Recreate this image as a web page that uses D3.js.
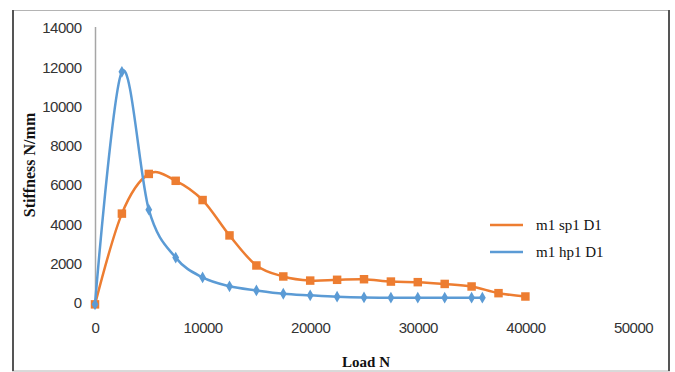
<!DOCTYPE html>
<html>
<head>
<meta charset="utf-8">
<script src="https://cdn.jsdelivr.net/npm/d3@7"></script>
<style>
  html, body { margin: 0; padding: 0; background: #fff; }
  svg { display: block; }
</style>
</head>
<body>
<svg id="chart" width="675" height="372"></svg>
<script>
// Load (N) at each measurement step
const loadSp = [0, 2500, 5000, 7500, 10000, 12500, 15000, 17500, 20000, 22500, 25000, 27500, 30000, 32500, 35000, 37500, 40000];
const stiffSp = [-120, 4500, 6520, 6170, 5190, 3390, 1860, 1300, 1090, 1130, 1160, 1040, 1010, 920, 790, 450, 280];

const loadHp = [0, 2500, 5000, 7500, 10000, 12500, 15000, 17500, 20000, 22500, 25000, 27500, 30000, 32500, 35000, 36000];
const stiffHp = [-120, 11720, 4700, 2260, 1250, 800, 590, 420, 340, 270, 230, 220, 220, 220, 220, 220];

const seriesNames = ["m1 sp1 D1", "m1 hp1 D1"];
const xTicks = [0, 10000, 20000, 30000, 40000, 50000];
const yTicks = [0, 2000, 4000, 6000, 8000, 10000, 12000, 14000];

const svg = d3.select("#chart");
const x = d3.scaleLinear().domain([0, 50000]).range([95, 633]);
const y = d3.scaleLinear().domain([0, 14000]).range([302, 27]);

const ORANGE = "#ED7D31";
const BLUE = "#5B9BD5";
const TICK_FONT = "'Liberation Sans', Arial, sans-serif";
const SERIF = "'Liberation Serif', 'Times New Roman', serif";

// outer frame
svg.append("rect").attr("x", 12.5).attr("y", 10.5).attr("width", 657).attr("height", 360.5)
  .attr("fill", "none").attr("stroke", "#b4b4b4").attr("stroke-width", 1);
svg.append("line").attr("x1", 13).attr("x2", 13).attr("y1", 10).attr("y2", 371)
  .attr("stroke", "#555").attr("stroke-width", 2);
svg.append("line").attr("x1", 669).attr("x2", 669).attr("y1", 10).attr("y2", 371)
  .attr("stroke", "#555").attr("stroke-width", 2);

// vertical axis line
svg.append("line").attr("x1", x(0) + 0.5).attr("x2", x(0) + 0.5)
  .attr("y1", y(14000)).attr("y2", y(-150))
  .attr("stroke", "#a6a6a6").attr("stroke-width", 1.5);

// y tick labels
const yAxis = d3.axisLeft(y).tickValues(yTicks).tickFormat(d3.format("d")).tickSize(0).tickPadding(0);
const gy = svg.append("g").attr("transform", "translate(81.5,1)").call(yAxis);
gy.select(".domain").remove();
gy.selectAll("text").attr("font-family", TICK_FONT)
  .attr("font-size", 15).attr("letter-spacing", "-0.5px").attr("fill", "#333");

// x tick labels (no horizontal axis line)
const xAxis = d3.axisBottom(x).tickValues(xTicks).tickFormat(d3.format("d")).tickSize(0).tickPadding(0);
const gx = svg.append("g").attr("transform", "translate(0,322)").call(xAxis);
gx.select(".domain").remove();
gx.selectAll("text").attr("font-family", TICK_FONT)
  .attr("font-size", 15).attr("letter-spacing", "-0.5px").attr("fill", "#333");

// axis titles
svg.append("text").attr("x", 366).attr("y", 367).attr("text-anchor", "middle")
  .attr("font-family", SERIF)
  .attr("font-weight", "bold").attr("font-size", 15).attr("fill", "#111")
  .text("Load N");
svg.append("text").attr("transform", "translate(35,165) rotate(-90)").attr("text-anchor", "middle")
  .attr("font-family", SERIF)
  .attr("font-weight", "bold").attr("font-size", 16).attr("fill", "#111")
  .text("Stiffness N/mm");

const line = d3.line().x(d => x(d[0])).y(d => y(d[1])).curve(d3.curveCardinal.tension(0));

const sp = loadSp.map((v, i) => [v, stiffSp[i]]);
const hp = loadHp.map((v, i) => [v, stiffHp[i]]);

const square = d3.symbol().type(d3.symbolSquare).size(72);
const diamond = d3.symbol().type(d3.symbolDiamond).size(40);

// orange series
svg.append("path").datum(sp).attr("d", line).attr("fill", "none")
  .attr("stroke", ORANGE).attr("stroke-width", 2.5);
svg.append("g").selectAll("path").data(sp).join("path")
  .attr("transform", d => `translate(${x(d[0])},${y(d[1])})`)
  .attr("d", square).attr("fill", ORANGE);

// blue series
svg.append("path").datum(hp).attr("d", line).attr("fill", "none")
  .attr("stroke", BLUE).attr("stroke-width", 2.5);
svg.append("g").selectAll("path").data(hp).join("path")
  .attr("transform", d => `translate(${x(d[0])},${y(d[1])})`)
  .attr("d", diamond).attr("fill", BLUE);

// legend
const legend = [
  { name: seriesNames[0], color: ORANGE, sym: square, y: 225 },
  { name: seriesNames[1], color: BLUE, sym: diamond, y: 252 }
];
const lg = svg.append("g").selectAll("g").data(legend).join("g")
  .attr("transform", d => `translate(0,${d.y})`);
lg.append("line").attr("x1", 490).attr("x2", 523).attr("y1", 0).attr("y2", 0)
  .attr("stroke", d => d.color).attr("stroke-width", 2.5);
lg.append("path").attr("transform", "translate(506.5,0)").attr("d", d => d.sym).attr("fill", d => d.color);
lg.append("text").attr("x", 536).attr("y", 5)
  .attr("font-family", SERIF)
  .attr("font-size", 15).attr("fill", "#111")
  .text(d => d.name);
</script>
</body>
</html>
